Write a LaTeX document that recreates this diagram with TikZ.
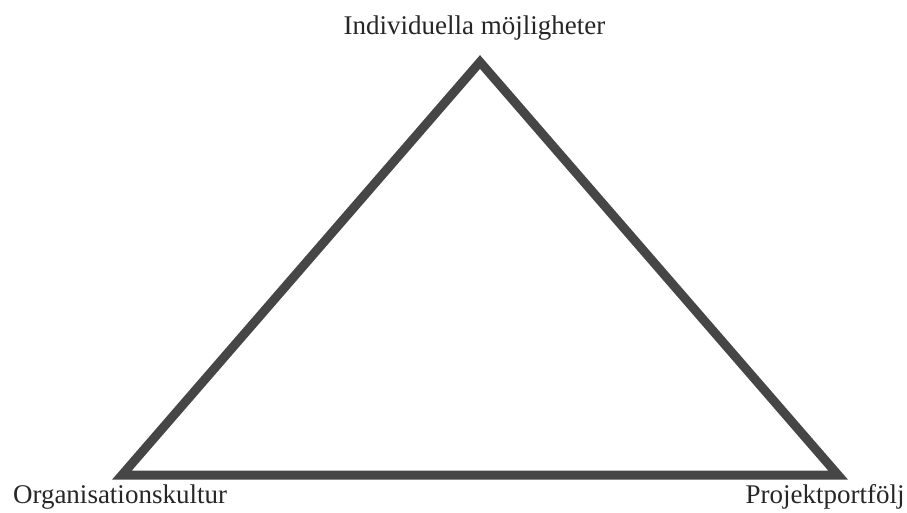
\documentclass[tikz,border=0pt]{standalone}
\usepackage{fontspec}
\setmainfont{Liberation Serif}
\usepackage{xcolor}
\definecolor{edgegray}{HTML}{464646}

\begin{document}
\begin{tikzpicture}[x=1pt, y=-1pt,
  side/.style={line width=9pt, draw=edgegray, line join=miter},
  lbl/.style={anchor=base, inner sep=0pt, font=\fontsize{27}{32}\selectfont, text=black!85}
]
\useasboundingbox (0,0) rectangle (907,513);
\coordinate (top) at (480,62);
\coordinate (left) at (122,475);
\coordinate (right) at (838,475);
\draw[side] (top) -- (right) -- (left) -- cycle;
\node[lbl] (ind) at (474.5,35) {Individuella möjligheter};
\node[lbl] (org) at (120,503) {Organisationskultur};
\node[lbl] (proj) at (825,503) {Projektportfölj};
\end{tikzpicture}
\end{document}
